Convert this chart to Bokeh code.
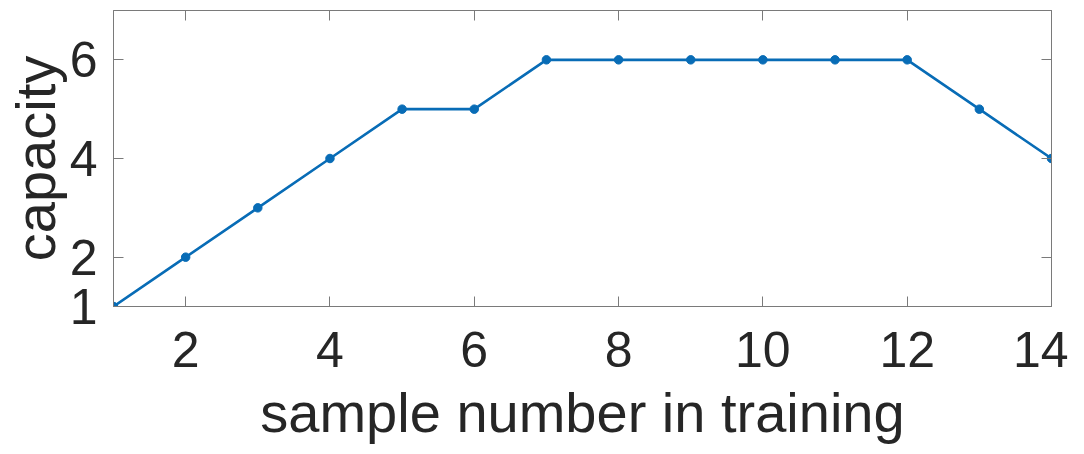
from bokeh.plotting import figure
from bokeh.models import LinearAxis, FixedTicker, Range1d
from bokeh.embed import file_html
from bokeh.resources import INLINE

# data
samples = [1, 2, 3, 4, 5, 6, 7, 8, 9, 10, 11, 12, 13, 14]
capacity = [1, 2, 3, 4, 5, 5, 6, 6, 6, 6, 6, 6, 5, 4]
x_ticks = [2, 4, 6, 8, 10, 12, 14]
y_ticks = [1, 2, 4, 6]

FONT = "Liberation Sans"
AX = "#7a7a7a"
TXT = "#262626"
BLUE = "#086cb6"

p = figure(width=1068, height=446, output_backend="svg", toolbar_location=None,
           x_range=Range1d(1, 14), y_range=Range1d(1, 7),
           min_border_left=113, min_border_right=17, min_border_top=10, min_border_bottom=140,
           frame_width=938, frame_height=296)
p.xgrid.visible = False
p.ygrid.visible = False
p.outline_line_color = AX
p.outline_line_width = 1
p.background_fill_color = "white"
p.border_fill_color = "white"

def style(ax, ticks, labels=True):
    ax.ticker = FixedTicker(ticks=ticks)
    ax.major_tick_in = 10
    ax.major_tick_out = 0
    ax.minor_tick_in = 0
    ax.minor_tick_out = 0
    ax.axis_line_color = AX
    ax.major_tick_line_color = AX
    ax.major_tick_line_width = 1
    ax.major_label_text_font = FONT
    ax.major_label_text_color = TXT
    ax.major_label_text_font_size = "50px"
    if not labels:
        ax.major_label_standoff = 0
        ax.major_label_text_font_size = "0px"
        ax.major_label_text_color = None

style(p.xaxis[0], x_ticks)
style(p.yaxis[0], y_ticks)
p.xaxis[0].major_label_standoff = 25
p.yaxis[0].major_label_standoff = 16
p.xaxis[0].axis_label = "sample number in training"
p.yaxis[0].axis_label = "capacity"
for ax in (p.xaxis[0], p.yaxis[0]):
    ax.axis_label_text_font = FONT
    ax.axis_label_text_font_size = "56px"
    ax.axis_label_text_font_style = "normal"
    ax.axis_label_text_color = TXT
p.xaxis[0].axis_label_standoff = 11
p.yaxis[0].axis_label_standoff = 0

top = LinearAxis()
style(top, x_ticks, labels=False)
p.add_layout(top, "above")
right = LinearAxis()
style(right, y_ticks, labels=False)
p.add_layout(right, "right")

p.line(samples, capacity, line_color=BLUE, line_width=2.6)
p.scatter(samples, capacity, marker="circle", size=8.5, fill_color=BLUE, line_color=BLUE)

open("out.html", "w").write(file_html(p, INLINE))
